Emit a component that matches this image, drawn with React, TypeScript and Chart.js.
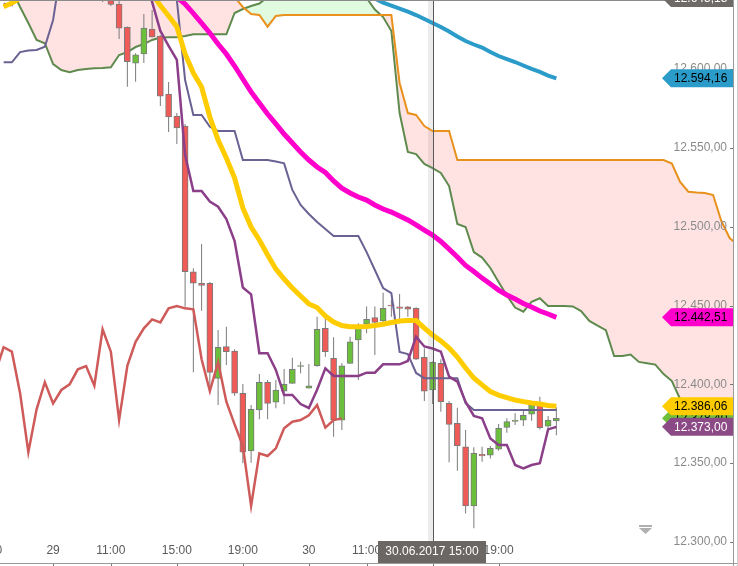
import React, { useEffect, useRef } from 'react';
import { Chart, registerables } from 'chart.js';

Chart.register(...registerables);

// ---------- data (bar index: 30-minute bars) ----------
const FIRST_CANDLE = 12;
const CHIKOU_SHIFT = 26;
const CROSS_INDEX = 52;
const CROSS_LABEL = '30.06.2017 15:00';

const OPEN = [12652, 12650, 12641.3, 12626.5, 12603.7, 12609.6, 12625.4, 12621.0, 12584.2, 12570.2, 12563.9, 12471.4, 12464.1, 12464.1, 12403.8, 12423.9, 12421.1, 12394.3, 12357.7, 12383.7, 12401.3, 12388.6, 12395.7, 12400.6, 12411.3, 12397.5, 12411.8, 12435.5, 12416.5, 12377.3, 12413.3, 12428.1, 12438.1, 12442.3, 12440.2, 12450.3, 12449.2, 12449.2, 12448.2, 12417.1, 12396.4, 12413.3, 12387.9, 12375.3, 12360.4, 12322.8, 12355.6, 12355.1, 12358.8, 12372.7, 12376.5, 12377.3, 12381.1, 12386.9, 12373.5, 12376.7];
const HIGH = [12658, 12652, 12646, 12627, 12610, 12635.0, 12637.5, 12621.5, 12591.8, 12572.1, 12565.2, 12473.6, 12489.0, 12464.9, 12434.4, 12436.5, 12422.2, 12400.2, 12386.9, 12406.5, 12402.7, 12402.7, 12409.7, 12416.9, 12414.3, 12412.9, 12442.9, 12442.9, 12429.8, 12413.3, 12430.2, 12438.7, 12449.3, 12449.3, 12458.1, 12453.5, 12457.3, 12449.7, 12448.9, 12422.8, 12414.5, 12415.9, 12389.4, 12385.1, 12371.0, 12360.0, 12360.4, 12360.8, 12374.8, 12378.4, 12381.6, 12383.7, 12389.0, 12392.1, 12379.9, 12385.4];
const LOW = [12642.5, 12640.0, 12619.1, 12588.8, 12592.0, 12603.9, 12620.0, 12576.6, 12560.1, 12552.5, 12449.2, 12407.6, 12446.7, 12394.3, 12386.9, 12412.2, 12392.8, 12349.9, 12350.3, 12377.8, 12377.8, 12384.8, 12387.3, 12400.4, 12407.0, 12397.3, 12411.2, 12417.5, 12366.8, 12371.0, 12413.0, 12402.7, 12432.4, 12418.6, 12438.1, 12442.9, 12438.7, 12442.9, 12415.4, 12389.4, 12387.5, 12382.6, 12350.5, 12345.2, 12318.1, 12308.6, 12350.9, 12353.0, 12357.9, 12369.3, 12374.2, 12373.5, 12376.9, 12371.4, 12371.4, 12367.7];
const CLOSE = [12645, 12641.1, 12625.9, 12604.7, 12609.0, 12626.1, 12620.4, 12582.9, 12569.6, 12562.6, 12471.4, 12464.1, 12462.8, 12407.6, 12423.5, 12420.7, 12394.3, 12356.9, 12384.1, 12401.3, 12387.9, 12396.4, 12400.0, 12409.5, 12411.6, 12399.1, 12434.9, 12420.7, 12377.3, 12411.8, 12427.0, 12435.5, 12441.2, 12439.3, 12448.2, 12449.7, 12448.2, 12447.6, 12415.9, 12395.7, 12414.0, 12389.0, 12374.6, 12361.0, 12322.8, 12356.2, 12354.5, 12359.4, 12372.1, 12376.3, 12377.3, 12380.3, 12386.9, 12372.5, 12377.3, 12378.4];

// Tenkan-sen (from bar 0)
const TENKAN = [12641.3, 12640.7, 12665, 12665, 12665, 12665, 12665, 12665, 12665, 12665, 12665, 12665, 12665, 12665, 12665, 12665, 12665, 12665,
  12642.6, 12624.2, 12614.7, 12605.8, 12545.5, 12522.6, 12522.6, 12515.9, 12512.7, 12504.9,
  12490.9, 12461.4, 12457.1, 12419.7, 12419.7, 12409.1, 12393.2, 12393.2, 12387.5, 12385.0,
  12396.6, 12410.1, 12405.3, 12405.3, 12405.3, 12405.3, 12407.4, 12407.4, 12412.7, 12412.7,
  12412.7, 12414.8, 12430.2, 12424.0, 12422.7, 12420.7, 12404.9, 12401.7, 12388.8, 12379.9,
  12378.4, 12365.7, 12361.5, 12361.5, 12348.8, 12346.7, 12348.8, 12349.9, 12371.4, 12373.0];

// Kijun-sen (from bar 0)
const KIJUN = [12604.3, 12604.3, 12610.8, 12611.8, 12612.1, 12614.2, 12631.2,
  12665, 12665, 12665, 12665, 12665, 12665, 12665, 12665, 12665, 12665, 12665, 12665, 12665, 12665,
  12643.8, 12593.1, 12570.9, 12570.9, 12563.4, 12560.7, 12560.7, 12560.7, 12542.3, 12542.3,
  12542.3, 12542.3, 12541.4, 12540.2, 12523.3, 12513.8, 12508.1, 12503.0, 12498.5, 12494.1,
  12494.1, 12494.1, 12494.1, 12483.9, 12472.5, 12461.1, 12457.9, 12420.5, 12419.2, 12407.2,
  12403.8, 12403.8, 12403.8, 12403.8, 12403.8, 12388.1, 12383.7, 12383.7, 12383.7, 12383.7,
  12383.7, 12383.7, 12383.7, 12383.7, 12383.7, 12383.7, 12383.7];

// Yellow moving average (from bar 0)
const MA_YELLOW = [12639.6, 12641.9, 12645, 12660, 12660, 12660, 12660, 12660, 12660, 12660, 12660, 12660, 12660, 12660, 12660, 12660, 12660, 12660,
  12648, 12640.3, 12633.7, 12626.9, 12609.6, 12597.5, 12588.6, 12569.6, 12555.0, 12543.6,
  12530.9, 12511.9, 12499.8, 12491.6, 12482.0, 12473.2, 12466.8, 12461.1, 12456.0, 12451.0,
  12448.7, 12443.3, 12439.5, 12437.3, 12436.5, 12436.5, 12436.7, 12437.3, 12438.1, 12439.2,
  12440.2, 12440.5, 12440.5, 12435.7, 12431.3, 12427.5, 12423.0, 12417.3, 12410.3, 12404.0,
  12399.6, 12395.4, 12393.2, 12391.6, 12390.0, 12389.0, 12388.1, 12387.5, 12386.6, 12386.06];

// Magenta moving average (from bar 20)
const MAGENTA_START = 20;
const MA_MAGENTA = [12655, 12645.7, 12641.3, 12635.4, 12629.2, 12622.9, 12615.9, 12609.6, 12601.96, 12593.7,
  12585.5, 12578.5, 12571.5, 12565.2, 12558.8, 12553.1, 12547.4, 12542.3, 12537.9, 12534.4,
  12529.0, 12524.5, 12521.4, 12518.8, 12516.9, 12513.8, 12511.2, 12509.3, 12506.8, 12504.3,
  12501.1, 12497.9, 12494.7, 12490.6, 12485.8, 12480.8, 12475.4, 12471.6, 12467.4, 12463.6,
  12459.8, 12456.7, 12454.1, 12451.3, 12449.1, 12446.5, 12444.6, 12442.51];

// Blue moving average (from bar 44)
const BLUE_START = 44;
const MA_BLUE = [12649, 12644.8, 12642.1, 12640.2, 12638.4, 12636.5, 12634.3, 12631.8, 12629.2, 12626.7,
  12623.9, 12620.7, 12617.8, 12615.6, 12613.7, 12610.8, 12608.3, 12606.4, 12604.5, 12602.3,
  12600.1, 12598.2, 12595.9, 12594.16];

// Senkou span A / B (already displaced, from bar 0)
const SENKOU_A = [12659.7, 12650.2, 12639.4, 12629.2, 12618.5, 12616.4, 12603.2, 12599.4, 12598.0, 12599.4,
  12600.1, 12600.5, 12600.7, 12601.1, 12608.9, 12610.8, 12614.0, 12615.9, 12618.5, 12620.0,
  12620.2, 12620.2, 12621.0, 12622.1, 12622.1, 12622.1, 12622.1, 12622.1, 12635.6, 12638.1,
  12640.0, 12641.6, 12645.7, 12652, 12652, 12652, 12652, 12652, 12652, 12652,
  12652, 12652, 12652, 12652, 12645.1, 12637.8, 12633.0, 12624.2, 12572.1, 12547.4,
  12546.1, 12539.8, 12537.2, 12534.1, 12525.8, 12501.7, 12499.8, 12483.9, 12480.4, 12473.8,
  12464.9, 12456.3, 12448.7, 12446.1, 12452.4, 12454.6, 12449.7, 12449.7, 12449.7, 12449.4,
  12446.5, 12440.2, 12437.3, 12434.4, 12418.0, 12418.0, 12418.9, 12414.2, 12413.3, 12412.5,
  12406.5, 12402.1, 12390.7, 12382.4, 12377.3, 12374.2, 12372.3, 12371.0, 12369.7, 12368.5];
const SENKOU_B = [12680, 12680, 12680, 12680, 12680, 12680, 12680, 12680, 12680, 12680,
  12680, 12680, 12680, 12680, 12680, 12680, 12680, 12680, 12680, 12680,
  12680, 12680, 12680, 12680, 12680, 12680, 12680, 12680, 12645.7, 12639.4,
  12635.0, 12634.3, 12626.9, 12633.7, 12634.3, 12634.3, 12634.3, 12634.3, 12634.3, 12634.3,
  12634.3, 12634.3, 12634.3, 12634.3, 12634.3, 12634.3, 12634.3, 12634.3, 12591.2, 12572.1,
  12570.9, 12563.9, 12560.7, 12560.7, 12560.7, 12542.3, 12542.3, 12542.3, 12542.3, 12542.3,
  12542.3, 12542.3, 12542.3, 12542.3, 12542.3, 12542.3, 12542.3, 12542.3, 12542.3, 12542.3,
  12542.3, 12542.3, 12542.3, 12542.3, 12542.3, 12542.3, 12542.3, 12542.3, 12542.3, 12542.3,
  12542.3, 12540.1, 12528.4, 12522.2, 12521.7, 12521.4, 12520.1, 12503.6, 12492.8, 12488.4];

// axes
const Y_TICKS = [12300, 12350, 12400, 12450, 12500, 12550, 12600];
const X_TICK_POS = [-2, 6, 13, 21, 29, 37, 44, 52, 60];
const X_TICK_LABELS = ['19:00', '29', '11:00', '15:00', '19:00', '30', '11:00', '15:00', '19:00'];

// right-hand value tags
const TAG_VALUES = [12645.13, 12594.16, 12442.51, 12378.4, 12386.06, 12373.0];
const TAG_BG = ['#6e6a67', '#2b9cc9', '#ff00cc', '#6fbf3a', '#ffcc00', '#8b4a86'];
const TAG_FG = ['#ffffff', '#000000', '#000000', '#000000', '#000000', '#ffffff'];

const UP_COLOR = '#6cbf3b';
const DOWN_COLOR = '#f05b57';
const FONT = '12px "Liberation Sans", Arial, sans-serif';

function fmt(v: number): string {
  const s = v.toFixed(2);
  const parts = s.split('.');
  const intPart = parts[0].replace(/\B(?=(\d{3})+(?!\d))/g, '.');
  return intPart + ',' + parts[1];
}

export default function App() {
  const canvasRef = useRef<HTMLCanvasElement | null>(null);

  useEffect(() => {
    const canvas = canvasRef.current;
    if (!canvas) return;

    const series = (start: number, arr: number[]) => arr.map((y, k) => ({ x: start + k, y }));
    const xs = OPEN.map((_, k) => FIRST_CANDLE + k);
    const wickData = xs.map((x, k) => ({ x, y: [LOW[k], HIGH[k]] }));
    const bodyData = xs.map((x, k) => {
      const o = OPEN[k];
      let c = CLOSE[k];
      if (Math.abs(c - o) < 0.6) c = o + (c >= o ? 0.6 : -0.6);
      return { x, y: [o, c] };
    });
    const bodyColors = xs.map((_, k) => (CLOSE[k] >= OPEN[k] ? UP_COLOR : DOWN_COLOR));
    const chikouData = xs.map((x, k) => ({ x: x - CHIKOU_SHIFT, y: CLOSE[k] }));

    const overlay = {
      id: 'overlay',
      beforeDatasetsDraw(chart: any) {
        const ctx = chart.ctx;
        const cx = Math.round(chart.scales.x.getPixelForValue(CROSS_INDEX));
        ctx.save();
        ctx.fillStyle = '#ececec';
        ctx.fillRect(cx - 5, 0, 5, 563);
        ctx.restore();
      },
      afterDatasetsDraw(chart: any) {
        const ctx = chart.ctx;
        const xS = chart.scales.x;
        const yS = chart.scales.y;
        ctx.save();
        // crosshair line
        const cx = Math.round(xS.getPixelForValue(CROSS_INDEX));
        ctx.fillStyle = '#5a5a5a';
        ctx.fillRect(cx, 0, 1, 563);

        // borders
        ctx.fillStyle = '#8a8a8a';
        ctx.fillRect(0, 0, 733, 1);
        ctx.fillStyle = '#9a9a9a';
        ctx.fillRect(0, 563, 738, 1);
        ctx.fillRect(733, 0, 1, 566);
        ctx.fillStyle = '#d0d0d0';
        ctx.fillRect(737, 0, 1, 566);

        // y labels
        ctx.font = FONT;
        ctx.textBaseline = 'middle';
        ctx.textAlign = 'right';
        Y_TICKS.forEach((v) => {
          const y = yS.getPixelForValue(v);
          ctx.fillStyle = '#8a8a8a';
          ctx.fillText(fmt(v), 727, y);
          ctx.fillStyle = '#777';
          ctx.fillRect(730, Math.round(y), 3, 1);
        });

        // x labels
        ctx.textAlign = 'center';
        X_TICK_POS.forEach((p, k) => {
          const x = xS.getPixelForValue(p);
          ctx.fillStyle = '#5a5a5a';
          ctx.fillText(X_TICK_LABELS[k], x, 551);
          ctx.fillStyle = '#777';
          ctx.fillRect(Math.round(x), 564, 1, 2);
        });

        // crosshair label
        ctx.fillStyle = '#6b6764';
        ctx.fillRect(cx - 55, 541, 108, 22);
        ctx.fillStyle = '#ffffff';
        ctx.fillText(CROSS_LABEL, cx - 1, 552);

        // scroll icon
        ctx.fillStyle = '#b0b0b0';
        ctx.fillRect(639, 525, 13, 2);
        ctx.beginPath();
        ctx.moveTo(639, 528);
        ctx.lineTo(652, 528);
        ctx.lineTo(645.5, 534);
        ctx.closePath();
        ctx.fill();

        // value tags
        ctx.textAlign = 'left';
        TAG_VALUES.forEach((v, k) => {
          const yc = yS.getPixelForValue(v);
          ctx.fillStyle = TAG_BG[k];
          ctx.beginPath();
          ctx.moveTo(662, yc);
          ctx.lineTo(671, yc - 9);
          ctx.lineTo(733, yc - 9);
          ctx.lineTo(733, yc + 9);
          ctx.lineTo(671, yc + 9);
          ctx.closePath();
          ctx.fill();
          ctx.fillStyle = TAG_FG[k];
          ctx.fillText(fmt(v), 674, yc + 0.5);
        });
        ctx.restore();
      },
    };

    const lineBase = { type: 'line' as const, pointRadius: 0, tension: 0, fill: false, clip: 0 };

    const chart = new Chart(canvas, {
      type: 'line',
      data: {
        datasets: [
          { ...lineBase, data: series(0, SENKOU_A), borderColor: '#5f8a4e', borderWidth: 2,
            fill: { target: 1, above: 'rgba(0,225,0,0.12)', below: 'rgba(255,0,0,0.11)' }, order: 10 },
          { ...lineBase, data: series(0, SENKOU_B), borderColor: '#e8911c', borderWidth: 2, order: 9 },
          { type: 'bar', data: wickData, backgroundColor: '#7a7a7a', borderWidth: 0, barThickness: 1,
            grouped: false, order: 8, inflateAmount: 0 },
          { type: 'bar', data: bodyData, backgroundColor: bodyColors, borderColor: '#7a7a7a', borderWidth: 1,
            borderSkipped: false, barThickness: 6, grouped: false, order: 7 },
          { ...lineBase, data: chikouData, borderColor: '#cf5a5a', borderWidth: 2.5, order: 6 },
          { ...lineBase, data: series(0, KIJUN), borderColor: '#6b6193', borderWidth: 2, order: 5 },
          { ...lineBase, data: series(0, TENKAN), borderColor: '#8b3f88', borderWidth: 2.5, order: 4 },
          { ...lineBase, data: series(0, MA_YELLOW), borderColor: '#ffcc00', borderWidth: 5, order: 3 },
          { ...lineBase, data: series(MAGENTA_START, MA_MAGENTA), borderColor: '#ff00cc', borderWidth: 5, order: 2 },
          { ...lineBase, data: series(BLUE_START, MA_BLUE), borderColor: '#2b9cc9', borderWidth: 4, order: 1 },
        ] as any,
      },
      options: {
        animation: false,
        responsive: false,
        devicePixelRatio: 1,
        events: [],
        layout: { padding: { left: 0, right: 5, top: 0, bottom: 3 } },
        plugins: { legend: { display: false }, tooltip: { enabled: false } },
        scales: {
          x: { type: 'linear', display: false, min: -0.4364, max: 88.412, offset: false },
          y: { type: 'linear', display: false, min: 12286.62, max: 12643.84 },
        },
      },
      plugins: [overlay],
    });

    return () => chart.destroy();
  }, []);

  return (
    <div style={{ position: 'absolute', left: 0, top: 0, width: 738, height: 566, background: '#ffffff' }}>
      <canvas ref={canvasRef} width={738} height={566} style={{ display: 'block', width: 738, height: 566 }} />
    </div>
  );
}
